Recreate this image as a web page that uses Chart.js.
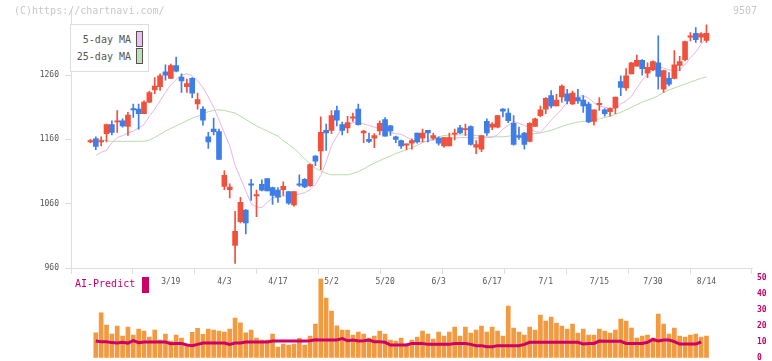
<!DOCTYPE html>
<html>
<head>
<meta charset="utf-8">
<script src="https://cdn.jsdelivr.net/npm/chart.js@4.4.1/dist/chart.umd.min.js"></script>
<style>
  html, body { margin: 0; padding: 0; background: #fff; }
  #wrap { position: relative; width: 772px; height: 361px; overflow: hidden; background: #fff; }
  canvas { position: absolute; left: 0; }
  .mono { font-family: "DejaVu Sans Mono", "Liberation Mono", monospace; }
  #copy { position: absolute; left: 14px; top: 5px; font-size: 10px; color: #c8c8c8; }
  #code { position: absolute; left: 733px; top: 5px; font-size: 10px; color: #c8c8c8; }
  #legend { position: absolute; left: 70px; top: 24px; width: 77px; height: 46px; border: 1px solid #dddddd; background: #fff; }
  .li { position: absolute; right: 17px; font-size: 10px; color: #555; white-space: nowrap; }
  .lb { position: absolute; left: 65px; width: 5px; height: 14px; border: 1px solid #555; }
  #ai { position: absolute; left: 75px; top: 278px; font-size: 10px; color: #cc0066; }
  #aibox { position: absolute; left: 142px; top: 277px; width: 7px; height: 16px; background: #cc0066; }
</style>
</head>
<body>
<div id="wrap">
  <canvas id="vol" width="772" height="91" style="top:270px"></canvas>
  <canvas id="main" width="772" height="300" style="top:0px"></canvas>
  <div id="copy" class="mono">(C)https://chartnavi.com/</div>
  <div id="code" class="mono">9507</div>
  <div id="legend" class="mono">
    <div class="li" style="top:9px">5-day MA</div>
    <div class="lb" style="top:6px;background:#eec0ee"></div>
    <div class="li" style="top:26px">25-day MA</div>
    <div class="lb" style="top:23px;background:#bfe0b4"></div>
  </div>
  <div id="ai" class="mono">AI-Predict</div>
  <div id="aibox"></div>
</div>
<script>
// ---------- data ----------
const dates = ['2/26','2/27','2/28','3/3','3/4','3/5','3/6','3/7','3/10','3/11','3/12','3/13','3/14','3/17','3/18','3/19','3/21','3/24','3/25','3/26','3/27','3/28','3/31','4/1','4/2','4/3','4/4','4/7','4/8','4/9','4/10','4/11','4/14','4/15','4/16','4/17','4/18','4/21','4/22','4/23','4/24','4/25','4/28','4/30','5/1','5/2','5/7','5/8','5/9','5/12','5/13','5/14','5/15','5/16','5/19','5/20','5/21','5/22','5/23','5/26','5/27','5/28','5/29','5/30','6/2','6/3','6/4','6/5','6/6','6/9','6/10','6/11','6/12','6/13','6/16','6/17','6/18','6/19','6/20','6/23','6/24','6/25','6/26','6/27','6/30','7/1','7/2','7/3','7/4','7/7','7/8','7/9','7/10','7/11','7/14','7/15','7/16','7/17','7/18','7/22','7/23','7/24','7/25','7/28','7/29','7/30','7/31','8/1','8/4','8/5','8/6','8/7','8/8','8/12','8/13','8/14'];
const tickLabels = ['3/19','4/3','4/17','5/2','5/20','6/3','6/17','7/1','7/15','7/30','8/14'];
const priceTicks = [960, 1060, 1160, 1260];
const volTicks = [0, 10, 20, 30, 40, 50];

const open  = [1156,1161,1156,1169,1183,1187,1189,1180,1208,1207,1200,1218,1237,1242,1265,1255,1275,1257,1242,1255,1215,1207,1164,1176,1172,1087,1082,995,1032,1050,1091,1072,1090,1099,1085,1081,1082,1079,1058,1091,1098,1088,1134,1142,1174,1174,1205,1183,1178,1193,1207,1170,1160,1162,1173,1191,1181,1164,1158,1151,1154,1170,1162,1174,1162,1162,1150,1150,1168,1178,1175,1180,1148,1145,1188,1179,1179,1207,1201,1185,1166,1170,1157,1180,1197,1207,1228,1212,1226,1231,1215,1225,1221,1215,1188,1214,1206,1203,1209,1250,1240,1262,1274,1283,1263,1268,1279,1238,1255,1255,1275,1284,1319,1325,1319,1314];
const high  = [1160,1164,1164,1184,1189,1205,1192,1202,1215,1215,1220,1235,1256,1262,1276,1277,1288,1262,1254,1256,1232,1211,1171,1193,1176,1111,1091,1048,1070,1051,1098,1081,1097,1099,1086,1085,1094,1079,1079,1105,1099,1122,1135,1195,1184,1205,1212,1187,1196,1201,1215,1174,1170,1169,1189,1194,1182,1165,1159,1153,1161,1170,1176,1174,1170,1164,1163,1170,1176,1182,1184,1181,1158,1166,1192,1186,1197,1208,1208,1197,1179,1171,1186,1193,1212,1225,1236,1230,1245,1238,1235,1238,1228,1218,1206,1225,1208,1209,1226,1259,1270,1280,1291,1284,1279,1282,1321,1268,1264,1298,1289,1313,1326,1334,1326,1338];
const low   = [1155,1144,1150,1156,1167,1171,1179,1166,1194,1176,1200,1217,1231,1236,1252,1255,1265,1233,1233,1225,1207,1182,1146,1167,1129,1082,1069,967,1030,1013,1065,1040,1080,1080,1059,1062,1073,1059,1056,1087,1085,1087,1119,1113,1143,1169,1181,1167,1170,1188,1182,1155,1155,1147,1167,1165,1166,1155,1146,1144,1145,1154,1156,1156,1159,1151,1148,1150,1159,1169,1166,1151,1138,1141,1166,1175,1178,1195,1186,1151,1160,1145,1156,1180,1195,1200,1209,1212,1218,1215,1214,1216,1202,1186,1182,1205,1196,1196,1200,1228,1236,1262,1274,1260,1256,1267,1238,1233,1243,1254,1267,1282,1313,1311,1311,1311];
const close = [1158,1149,1158,1183,1171,1189,1181,1198,1206,1200,1218,1233,1243,1259,1260,1275,1266,1251,1247,1232,1222,1190,1156,1172,1129,1104,1086,1017,1062,1030,1089,1074,1081,1080,1073,1070,1087,1061,1079,1089,1086,1121,1126,1171,1170,1197,1190,1174,1186,1195,1183,1173,1157,1166,1185,1165,1173,1160,1150,1153,1158,1156,1170,1170,1166,1154,1163,1163,1170,1170,1177,1152,1152,1166,1170,1184,1197,1204,1189,1152,1163,1152,1185,1192,1206,1224,1212,1221,1243,1220,1232,1220,1212,1187,1206,1216,1200,1208,1226,1241,1259,1279,1283,1270,1272,1281,1258,1267,1246,1276,1281,1312,1321,1315,1324,1325];

const ma5  = [null,1135,1140,1143,1155,1163,1166,1170,1173,1178,1183,1196,1207,1220,1233,1245,1253,1260,1262,1259,1251,1241,1226,1210,1190,1170,1150,1120,1100,1080,1060,1055,1054,1062,1069,1071,1072,1072,1073,1075,1077,1082,1090,1104,1125,1150,1165,1178,1182,1186,1186,1184,1182,1179,1177,1174,1171,1169,1168,1164,1159,1157,1156,1157,1159,1161,1162,1162,1162,1163,1163,1163,1162,1162,1163,1163,1167,1176,1182,1188,1185,1182,1178,1172,1171,1180,1190,1198,1207,1218,1223,1227,1228,1224,1217,1212,1210,1208,1208,1215,1220,1227,1240,1252,1262,1268,1272,1271,1268,1267,1268,1276,1287,1296,1308,1317];
const ma25 = [null,1163,1159,1158,1157,1157,1157,1157,1157,1157,1157,1159,1163,1168,1173,1177,1181,1185,1189,1193,1196,1200,1203,1205,1206,1205,1203,1201,1196,1191,1186,1181,1177,1173,1169,1165,1158,1152,1146,1138,1130,1122,1115,1111,1107,1105,1105,1105,1105,1107,1110,1114,1119,1123,1127,1131,1134,1138,1141,1144,1147,1151,1155,1158,1161,1164,1166,1167,1167,1167,1167,1167,1166,1165,1164,1164,1164,1164,1165,1166,1167,1167,1168,1169,1170,1172,1174,1177,1180,1183,1185,1187,1188,1189,1190,1192,1194,1196,1199,1202,1206,1210,1214,1218,1221,1224,1228,1233,1237,1240,1243,1246,1249,1252,1255,1257];

const volume = [null,15.7,28.3,20.6,14.9,19.9,13.6,19.3,14.3,18.0,16.8,13.0,17.4,11.1,14.9,10.5,14.3,12.4,7.0,16.0,18.5,14.7,18.0,17.4,16.8,16.2,18.0,25.0,22.0,15.7,17.4,12.4,11.1,11.1,14.9,6.7,8.6,8.0,8.6,12.2,8.0,13.6,21.1,49.7,37.5,29.4,20.1,17.4,17.4,14.3,16.2,14.9,12.4,13.6,16.8,14.9,11.1,10.5,12.4,8.6,11.1,13.0,16.8,14.9,11.8,16.2,13.6,16.2,19.3,13.6,19.3,15.5,17.4,19.9,16.2,19.3,16.8,13.6,32.5,18.7,16.2,14.3,19.3,17.4,26.9,23.1,25.6,21.8,19.9,18.0,21.2,15.5,18.0,14.3,14.3,18.0,16.8,15.5,17.4,24.3,23.1,18.7,12.4,13.6,14.3,12.4,27.5,21.2,14.9,18.7,13.6,13.0,14.3,14.9,13.0,13.6];
const aiPredict = [null,10.5,10.0,10.0,9.5,9.2,9.7,9.2,10.7,9.4,9.9,9.9,9.9,9.9,9.9,8.8,9.0,9.0,8.0,7.6,8.4,9.2,9.2,9.2,9.2,9.2,8.4,9.2,9.2,9.9,9.9,9.9,9.9,9.9,10.5,10.5,10.5,10.5,10.5,10.5,10.5,10.7,11.3,11.1,11.1,11.1,11.1,12.0,10.7,11.1,10.5,10.7,11.1,10.1,10.1,9.7,8.0,8.0,8.0,8.0,9.0,9.0,9.0,8.4,8.4,8.4,8.4,8.4,9.0,9.0,9.0,8.4,7.6,7.6,6.9,6.9,7.6,7.6,7.6,7.6,7.6,8.4,9.7,9.7,9.7,9.7,9.7,9.7,9.7,9.7,9.7,9.7,8.6,9.0,9.0,10.5,10.3,10.3,10.3,10.3,9.0,9.0,9.0,9.0,9.7,11.5,10.5,11.1,11.1,10.1,8.6,8.6,8.6,8.6,9.9];

// ---------- styles ----------
const RED = '#f0503c', BLUE = '#3f7de8';
const MONO = '"DejaVu Sans Mono", "Liberation Mono", monospace';
const X_MIN = -3.63, X_MAX = 123.5;
const GRID_COUNT = 11;

const up = k => close[k] >= open[k];
const candleColor = c => up(c.dataIndex) ? RED : BLUE;
const idx = dates.map((d, k) => k);
const tickIdx = tickLabels.map(l => dates.indexOf(l));

// ---------- main chart ----------
new Chart(document.getElementById('main'), {
  type: 'bar',
  data: {
    datasets: [
      { type: 'line', label: '25-day MA', data: idx.map(k => ({x: k, y: ma25[k]})),
        borderColor: '#b7dba8', borderWidth: 1, pointRadius: 0, tension: 0, order: 3 },
      { type: 'line', label: '5-day MA', data: idx.map(k => ({x: k, y: ma5[k]})),
        borderColor: '#e8b4e8', borderWidth: 1, pointRadius: 0, tension: 0, order: 2 },
      { type: 'bar', label: 'wick', data: idx.map(k => ({x: k, y: [low[k], high[k]]})),
        backgroundColor: candleColor, barThickness: 1, grouped: false, minBarLength: 1, order: 1 },
      { type: 'bar', label: 'body', data: idx.map(k => ({x: k, y: [open[k], close[k]]})),
        backgroundColor: candleColor, barThickness: 5, grouped: false, minBarLength: 1, order: 0 }
    ]
  },
  options: {
    responsive: false, animation: false, events: [],
    layout: { padding: { top: 10, right: 20, left: 0, bottom: 0 } },
    plugins: { legend: { display: false }, tooltip: { enabled: false } },
    scales: {
      x: {
        type: 'linear', position: 'bottom', weight: 0, min: X_MIN, max: X_MAX, offset: false,
        grid: { drawOnChartArea: false, color: '#dddddd', tickLength: 6, offset: false },
        border: { color: '#dddddd' },
        ticks: { display: false },
        afterBuildTicks: s => { s.ticks = Array.from({length: GRID_COUNT + 1}, (_, j) => ({ value: X_MIN + j * (X_MAX - X_MIN) / GRID_COUNT })); },
        afterFit: s => { s.height = 6; }
      },
      xd: {
        type: 'linear', position: 'bottom', weight: 1, min: X_MIN, max: X_MAX, offset: false,
        grid: { display: false, drawTicks: false }, border: { display: false },
        ticks: { autoSkip: false, maxRotation: 0, padding: 3, color: '#555', font: { family: MONO, size: 8 },
                 callback: v => dates[Math.round(v)] },
        afterBuildTicks: s => { s.ticks = tickIdx.map(v => ({ value: v })); },
        afterFit: s => { s.height = 26; }
      },
      y: {
        type: 'linear', position: 'left', min: 960, max: 1360,
        grid: { drawOnChartArea: false, color: '#dddddd', tickLength: 6 },
        border: { color: '#dddddd' },
        ticks: { padding: 6, color: '#555', font: { family: MONO, size: 8 }, callback: v => String(v) },
        afterBuildTicks: s => { s.ticks = priceTicks.map(v => ({ value: v })); },
        afterFit: s => { s.width = 71; }
      }
    }
  }
});

// ---------- volume / AI chart ----------
new Chart(document.getElementById('vol'), {
  type: 'bar',
  data: {
    datasets: [
      { type: 'line', label: 'AI-Predict', data: idx.map(k => ({x: k, y: aiPredict[k]})),
        borderColor: '#cc0066', borderWidth: 3, pointRadius: 0, tension: 0, order: 0, yAxisID: 'yv' },
      { type: 'bar', label: 'Volume', data: idx.map(k => ({x: k, y: volume[k]})),
        backgroundColor: '#f29a40', barThickness: 4, grouped: false, order: 1, yAxisID: 'yv' }
    ]
  },
  options: {
    responsive: false, animation: false, events: [],
    layout: { padding: { top: 8.3, right: 0, left: 71, bottom: 3.3 } },
    plugins: { legend: { display: false }, tooltip: { enabled: false } },
    scales: {
      x: { type: 'linear', display: false, min: X_MIN, max: X_MAX, offset: false },
      yv: {
        type: 'linear', position: 'right', min: 0, max: 50,
        grid: { display: false, drawTicks: false }, border: { display: false },
        ticks: { padding: 5, color: '#cc0066', font: { family: MONO, size: 8, weight: 'bold' }, callback: v => String(v) },
        afterBuildTicks: s => { s.ticks = volTicks.map(v => ({ value: v })); },
        afterFit: s => { s.width = 20; s.paddingTop = 0; s.paddingBottom = 0; }
      }
    }
  }
});
</script>
</body>
</html>
